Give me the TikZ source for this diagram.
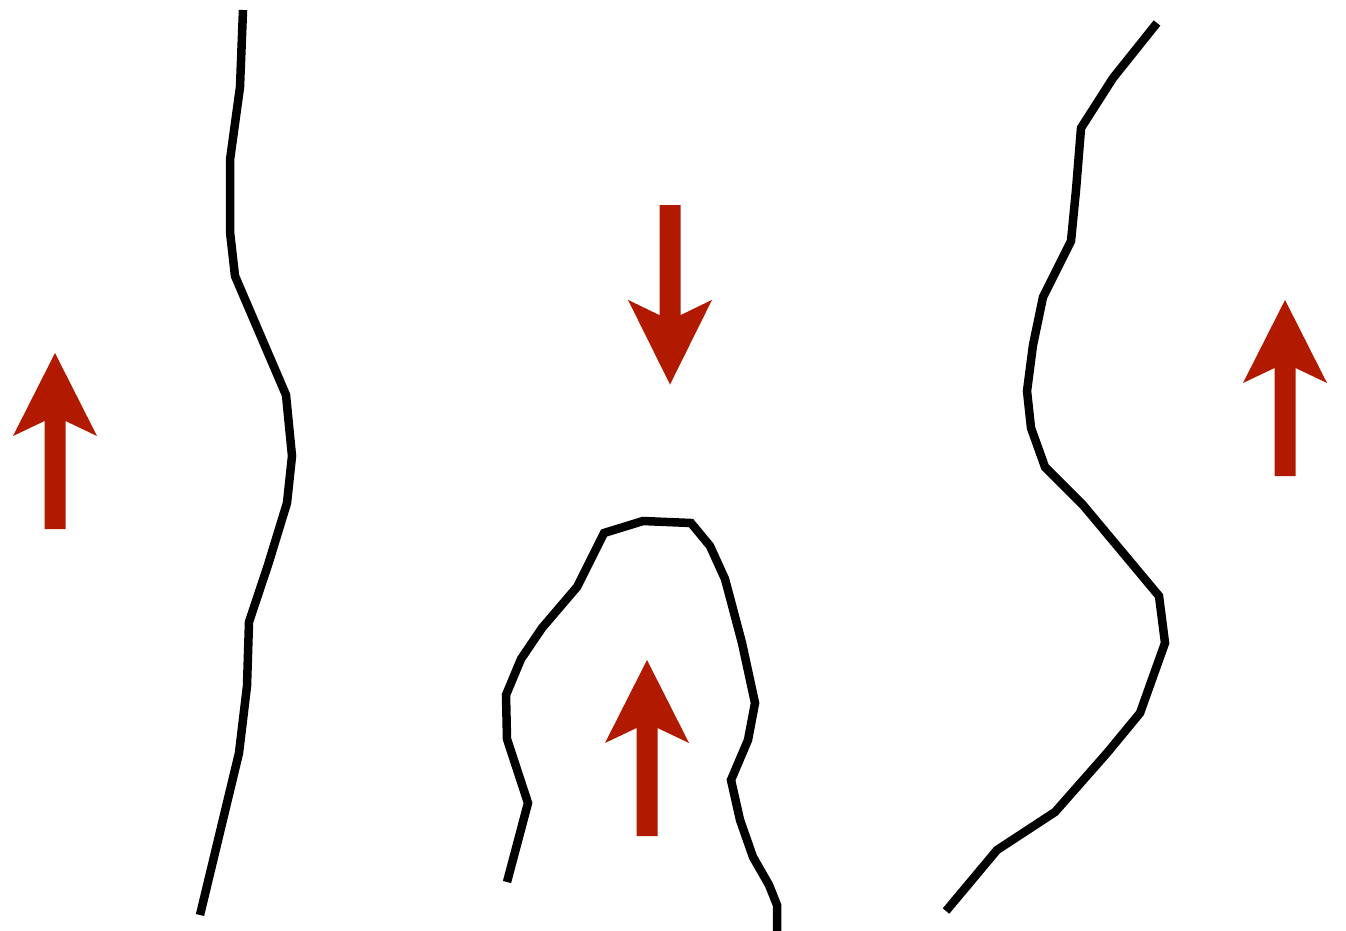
\documentclass[tikz,border=0pt]{standalone}
\definecolor{arrowred}{RGB}{178,26,0}

\begin{document}
\begin{tikzpicture}[x=0.01cm, y=-0.01cm,
    fault/.style = {line width=0.085cm, line join=miter, black},
    flow/.pic = {\fill[arrowred] (-10.5,0) -- (-10.5,-108) -- (-42,-93) -- (0,-176) -- (42,-93) -- (10.5,-108) -- (10.5,0) -- cycle;}]
    \useasboundingbox (0,0) rectangle (1346,930);

    % left line
    \draw[fault] (243,10) -- (240,87) -- (230,160) -- (230,232) -- (235,276) -- (286,395) -- (292,456) -- (287,503) -- (268,565) -- (249,622) -- (247,686) -- (239,753) -- (200,915);

    % middle line
    \draw[fault] (507,882) -- (528,803) -- (507,739) -- (506,695) -- (521,659) -- (542,628) -- (577,587) -- (604,533) -- (643,521) -- (691,523) -- (710,546) -- (725,579) -- (742,643) -- (755,703) -- (748,740) -- (731,780) -- (740,820) -- (753,857) -- (769,885) -- (777,905) -- (777,932);

    % right line
    \draw[fault] (1157,23) -- (1113,78) -- (1081,128) -- (1076,190) -- (1071,241) -- (1043,297) -- (1033,345) -- (1027,391) -- (1031,428) -- (1045,467) -- (1083,505) -- (1159,596) -- (1165,643) -- (1140,713) -- (1107,753) -- (1055,812) -- (997,850) -- (946,911);

    % arrows
    \coordinate (L) at (55,529);
    \coordinate (M) at (670,205);
    \coordinate (N) at (647,836);
    \coordinate (R) at (1285,476);
    \pic at (L) {flow};
    \pic[rotate=180, yscale=1.02] at (M) {flow};
    \pic at (N) {flow};
    \pic at (R) {flow};

\end{tikzpicture}
\end{document}
